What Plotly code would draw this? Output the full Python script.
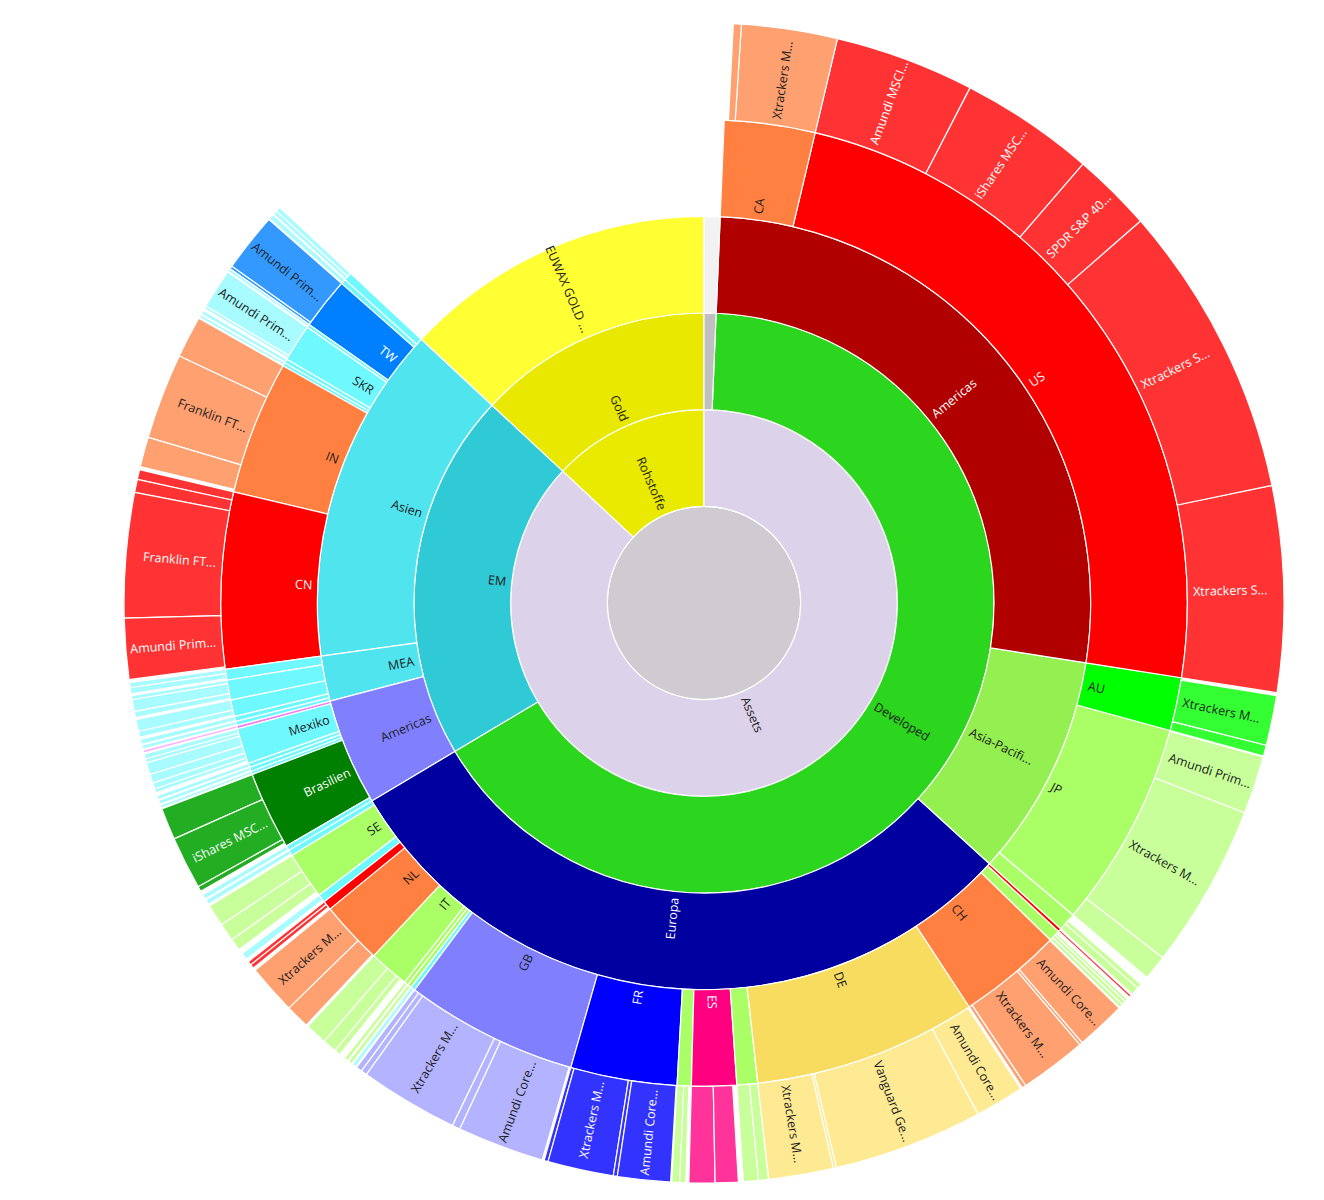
import math
import plotly.graph_objects as go

# ---------------- data (shares, full circle = 360) ----------------
root_label = "Portfolio"

l2_labels = ["Rohstoffe", "Assets"]
l2_parents = ["Portfolio", "Portfolio"]
l2_values = [47.0, 313.0]

l3_labels = ["Gold", "EM", "Developed", "Sonstige"]
l3_parents = ["Rohstoffe", "Assets", "Assets", "Assets"]
l3_values = [47.0, 73.8, 236.8, 2.4]

l4_labels = ["EUWAX GOLD ...", "Asien", "MEA", "Americas", "Europa", "Asia-Pacifi...", "Americas", "Cash"]
l4_parents = ["Rohstoffe/Gold", "Assets/EM", "Assets/EM", "Assets/EM",
              "Assets/Developed", "Assets/Developed", "Assets/Developed", "Assets/Sonstige"]
l4_values = [47.0, 50.9, 6.8, 16.1, 106.8, 33.5, 96.5, 2.4]

l5_parents = (["Assets/EM/Asien"] * 9 + ["Assets/EM/MEA"] * 5 + ["Assets/EM/Americas"] * 7
              + ["Assets/Developed/Europa"] * 18 + ["Assets/Developed/Asia-Pacifi..."] * 3
              + ["Assets/Developed/Americas"] * 2)
l5_labels = ["MY", "ID", "TW", "PH", "SKR", "TH", "VN", "IN", "CN",
             "SA", "ZA", "AE", "QA", "KW",
             "CL", "Mexiko", "CO", "PE", "AR", "Brasilien", "UY",
             "AT", "SE", "BE", "NO", "NL", "IT", "FI", "PT", "PL", "GB", "FR", "IE", "ES", "LU", "DE", "CH", "DK", "IL",
             "HK", "JP", "AU",
             "US", "CA"]
l5_values = [1.0, 0.6, 6.2, 0.4, 4.5, 0.5, 0.4, 16.1, 21.2,
             1.3, 2.4, 2.0, 0.6, 0.5,
             0.4, 4.3, 0.5, 0.5, 0.4, 9.4, 0.6,
             0.7, 5.7, 1.0, 1.1, 7.6, 4.8, 0.5, 0.5, 0.5, 20.8, 12.8, 1.7, 5.4, 2.5, 26.9, 12.5, 1.4, 0.4,
             2.2, 24.9, 6.4,
             85.6, 10.9]
l5_shown = ["TW", "SKR", "IN", "CN", "Mexiko", "Brasilien", "SE", "NL", "IT", "GB", "FR", "ES",
            "DE", "CH", "JP", "AU", "US", "CA"]

# ETF level: parent country, label, share
l6_country = ["MY", "MY", "ID", "TW", "TW", "PH", "SKR", "SKR", "TH", "VN",
              "IN", "IN", "IN", "CN", "CN", "CN", "CN",
              "SA", "SA", "ZA", "ZA", "ZA", "AE", "AE", "QA", "KW",
              "CL", "Mexiko", "Mexiko", "Mexiko", "Mexiko", "Mexiko", "Mexiko", "CO", "PE", "AR",
              "Brasilien", "Brasilien", "Brasilien", "UY",
              "AT", "SE", "SE", "SE", "BE", "NO", "NO", "NL", "NL", "IT", "IT", "IT", "FI", "PT", "PL",
              "GB", "GB", "GB", "GB", "GB", "FR", "FR", "FR", "FR", "IE", "IE", "ES", "ES", "LU", "LU",
              "DE", "DE", "DE", "DE", "CH", "CH", "CH", "CH", "DK", "DK", "DK", "IL",
              "HK", "HK", "JP", "JP", "JP", "AU", "AU",
              "US", "US", "US", "US", "US", "CA", "CA"]
l6_labels = ["ETF", "ETF", "ETF", "Amundi Prim...", "ETF", "ETF", "Amundi Prim...", "ETF", "ETF", "ETF",
             "ETF", "Franklin FT...", "ETF", "ETF", "ETF", "Franklin FT...", "Amundi Prim...",
             "ETF", "ETF", "ETF", "ETF", "ETF", "ETF", "ETF", "ETF", "ETF",
             "ETF", "ETF", "ETF", "ETF", "ETF", "ETF", "ETF", "ETF", "ETF", "ETF",
             "ETF", "iShares MSC...", "ETF", "ETF",
             "ETF", "ETF", "ETF", "ETF", "ETF", "ETF", "ETF", "Xtrackers M...", "ETF", "ETF", "ETF", "ETF", "ETF", "ETF", "ETF",
             "ETF", "ETF", "Xtrackers M...", "ETF", "Amundi Core...", "ETF", "Xtrackers M...", "ETF", "Amundi Core...",
             "ETF", "ETF", "ETF", "ETF", "ETF", "ETF",
             "Xtrackers M...", "ETF", "Vanguard Ge...", "Amundi Core...", "ETF", "Xtrackers M...", "ETF", "Amundi Core...",
             "ETF", "ETF", "ETF", "ETF",
             "ETF", "ETF", "ETF", "Xtrackers M...", "Amundi Prim...", "ETF", "Xtrackers M...",
             "Xtrackers S...", "Xtrackers S...", "SPDR S&P 40...", "iShares MSC...", "Amundi MSCI...",
             "Xtrackers M...", "ETF"]
l6_values = [0.5, 0.4, 0.5, 5.9, 0.3, 0.3, 4.0, 0.3, 0.4, 0.3,
             4.2, 8.6, 3.0, 1.0, 1.3, 12.5, 6.1,
             0.5, 0.6, 0.4, 1.2, 0.6, 1.2, 0.6, 0.5, 0.4,
             0.3, 0.5, 0.4, 1.2, 0.9, 0.6, 0.4, 0.4, 0.4, 0.3,
             3.2, 5.3, 0.5, 0.5,
             0.5, 2.2, 1.8, 1.2, 0.7, 0.4, 0.4, 5.0, 2.4, 2.2, 1.4, 0.6, 0.4, 0.4, 0.4,
             0.6, 0.6, 9.9, 0.8, 8.7, 0.4, 6.6, 0.4, 5.3, 0.8, 0.6, 2.6, 2.3, 1.5, 1.0,
             6.5, 0.3, 15.0, 4.9, 0.4, 6.7, 0.3, 5.0, 0.4, 0.4, 0.3, 0.25,
             0.8, 0.5, 2.5, 16.5, 5.8, 1.1, 5.0,
             20.6, 29.5, 8.0, 13.5, 14.0,
             9.6, 0.8]

# ---------------- styles ----------------
upper_colors = {
    "Portfolio": "#cfcbd0",
    "Rohstoffe": "#eaea00", "Assets": "#dcd3ea",
    "Rohstoffe/Gold": "#e8e800", "Assets/EM": "#30cad6", "Assets/Developed": "#2cd51e",
    "Assets/Sonstige": "#c0c0c0",
    "Rohstoffe/Gold/EUWAX GOLD ...": "#ffff33", "Assets/EM/Asien": "#50e4ee", "Assets/EM/MEA": "#50e4ee",
    "Assets/EM/Americas": "#8080ff", "Assets/Developed/Europa": "#0000a0",
    "Assets/Developed/Asia-Pacifi...": "#94ef50", "Assets/Developed/Americas": "#b00000",
    "Assets/Sonstige/Cash": "#f2f2f2",
}
palette = {
    "rot": ("#ff0000", "#ff3333"), "orange": ("#ff8040", "#ffa070"),
    "hgruen": ("#aaff66", "#c8ff9a"), "cyan": ("#70f8ff", "#a8fbff"),
    "blau": ("#0080ff", "#3399ff"), "blau2": ("#0000ff", "#3333ff"),
    "lila": ("#8080ff", "#b3b3ff"), "magenta": ("#ff0080", "#ff3399"),
    "gold": ("#f7dc5f", "#ffea94"), "dgruen": ("#008000", "#22ad22"),
    "lime": ("#00ff00", "#33ff33"), "pink": ("#ee82ee", "#ffb3ff"),
}
country_style = {
    "TW": "blau", "IN": "orange", "CN": "rot", "CL": "pink", "Brasilien": "dgruen",
    "SE": "hgruen", "NO": "rot", "NL": "orange", "IT": "hgruen", "FI": "hgruen", "PT": "hgruen",
    "GB": "lila", "FR": "blau2", "IE": "hgruen", "ES": "magenta", "LU": "hgruen", "DE": "gold",
    "CH": "orange", "DK": "hgruen", "IL": "rot", "HK": "hgruen", "JP": "hgruen", "AU": "lime",
    "US": "rot", "CA": "orange",
}
FONT = "Open Sans"
FONT_SIZE = 12.5
W, H = 1324, 1200
M_L, M_R, M_T, M_B = 124, 40, 23, 17

# ---------------- build hierarchy ----------------
ids, labels, parents, totals, colors, shown = [], [], [], [], [], []

def add(i, lab, par, val, col, show):
    ids.append(i); labels.append(lab); parents.append(par)
    totals.append(val); colors.append(col); shown.append(show)

add("Portfolio", root_label, "", 360.0, upper_colors["Portfolio"], False)
for lab, par, val in zip(l2_labels, l2_parents, l2_values):
    add(lab, lab, par, val, upper_colors[lab], True)
for lab, par, val in zip(l3_labels, l3_parents, l3_values):
    i = par + "/" + lab
    add(i, lab, par, val, upper_colors[i], lab != "Sonstige")
for lab, par, val in zip(l4_labels, l4_parents, l4_values):
    i = par + "/" + lab
    add(i, lab, par, val, upper_colors[i], lab != "Cash")
country_id = {}
for lab, par, val in zip(l5_labels, l5_parents, l5_values):
    i = par + "/" + lab
    country_id[lab] = i
    key = country_style.get(lab, "cyan")
    add(i, lab, par, val, palette[key][0], lab in l5_shown)
counter = {}
for c, lab, val in zip(l6_country, l6_labels, l6_values):
    counter[c] = counter.get(c, 0) + 1
    par = country_id[c]
    key = country_style.get(c, "cyan")
    add(par + "/" + str(counter[c]), lab, par, val, palette[key][1], lab != "ETF")

# remainder mode: own share = total minus children
child_sum = {}
kids = {}
for i, p, v in zip(ids, parents, totals):
    child_sum[p] = child_sum.get(p, 0.0) + v
    kids.setdefault(p, []).append(i)
own = [max(0.0, round(v - child_sum.get(i, 0.0), 6)) for i, v in zip(ids, totals)]
own_of = dict(zip(ids, own))

def full(i):
    return own_of[i] + sum(full(k) for k in kids.get(i, []))

# angular layout (same order/direction as the sunburst: counter-clockwise from 12 o'clock)
grand = full("Portfolio")
start, span = {}, {}
def place(i, s):
    start[i] = s
    span[i] = full(i) / grand * 360.0
    acc = s
    for k in kids.get(i, []):
        place(k, acc)
        acc += full(k) / grand * 360.0
place("Portfolio", 0.0)

def text_color(hexcol):
    r, g, b = int(hexcol[1:3], 16), int(hexcol[3:5], 16), int(hexcol[5:7], 16)
    return "#1c1c1c" if (r * 299 + g * 587 + b * 114) / 1000 >= 128 else "#ffffff"

# approximate Open Sans advance widths (units per 2048 em)
ADV = dict(zip("abcdefghijklmnopqrstuvwxyz",
               [1139, 1255, 975, 1255, 1149, 694, 1122, 1257, 518, 518, 1075, 518, 1905, 1257, 1237,
                1255, 1255, 836, 977, 723, 1257, 1026, 1593, 1073, 1028, 977]))
ADV.update(dict(zip("ABCDEFGHIJKLMNOPQRSTUVWXYZ",
                    [1296, 1327, 1292, 1493, 1139, 1057, 1491, 1511, 571, 547, 1257, 1073, 1849, 1577, 1602,
                     1247, 1602, 1255, 1098, 1104, 1507, 1221, 1874, 1145, 1141, 1155])))
ADV.update({".": 545, " ": 532, "-": 659, "&": 1491})
def text_width(s):
    return sum(ADV.get(ch, 1171) for ch in s) / 2048.0 * FONT_SIZE

plot_px = min(W - M_L - M_R, H - M_T - M_B)
R = plot_px / 2.0
ring = R / 6.0
annotations = []
for i, lab, col, show in zip(ids, labels, colors, shown):
    if not show:
        continue
    depth = i.count("/") + 1
    mid = start[i] + span[i] / 2.0          # counter-clockwise offset from 12 o'clock
    bearing = (360.0 - mid) % 360.0         # clockwise from 12 o'clock
    r_c = depth * ring + 6 + text_width(lab) / 2.0
    b = math.radians(bearing)
    ang = bearing - 90 if bearing < 180 else bearing - 270
    annotations.append(dict(
        x=0.5 + r_c * math.sin(b) / plot_px, y=0.5 + r_c * math.cos(b) / plot_px,
        xref="paper", yref="paper", text=lab, showarrow=False, textangle=ang,
        xanchor="center", yanchor="middle",
        font=dict(family=FONT, size=FONT_SIZE, color=text_color(col)),
    ))

fig = go.Figure(go.Sunburst(
    ids=ids, labels=labels, parents=parents, values=own,
    branchvalues="remainder", sort=False, rotation=90,
    marker=dict(colors=colors, line=dict(color="#ffffff", width=1.2)),
    leaf=dict(opacity=1),
    textinfo="none",
    hoverinfo="label+value",
))
fig.update_layout(
    width=W, height=H,
    margin=dict(l=M_L, r=M_R, t=M_T, b=M_B),
    paper_bgcolor="#ffffff",
    annotations=annotations,
    font=dict(family=FONT),
)
fig.write_html("out.html", config={"displayModeBar": False},
               post_script="document.body.style.margin='0px';")
